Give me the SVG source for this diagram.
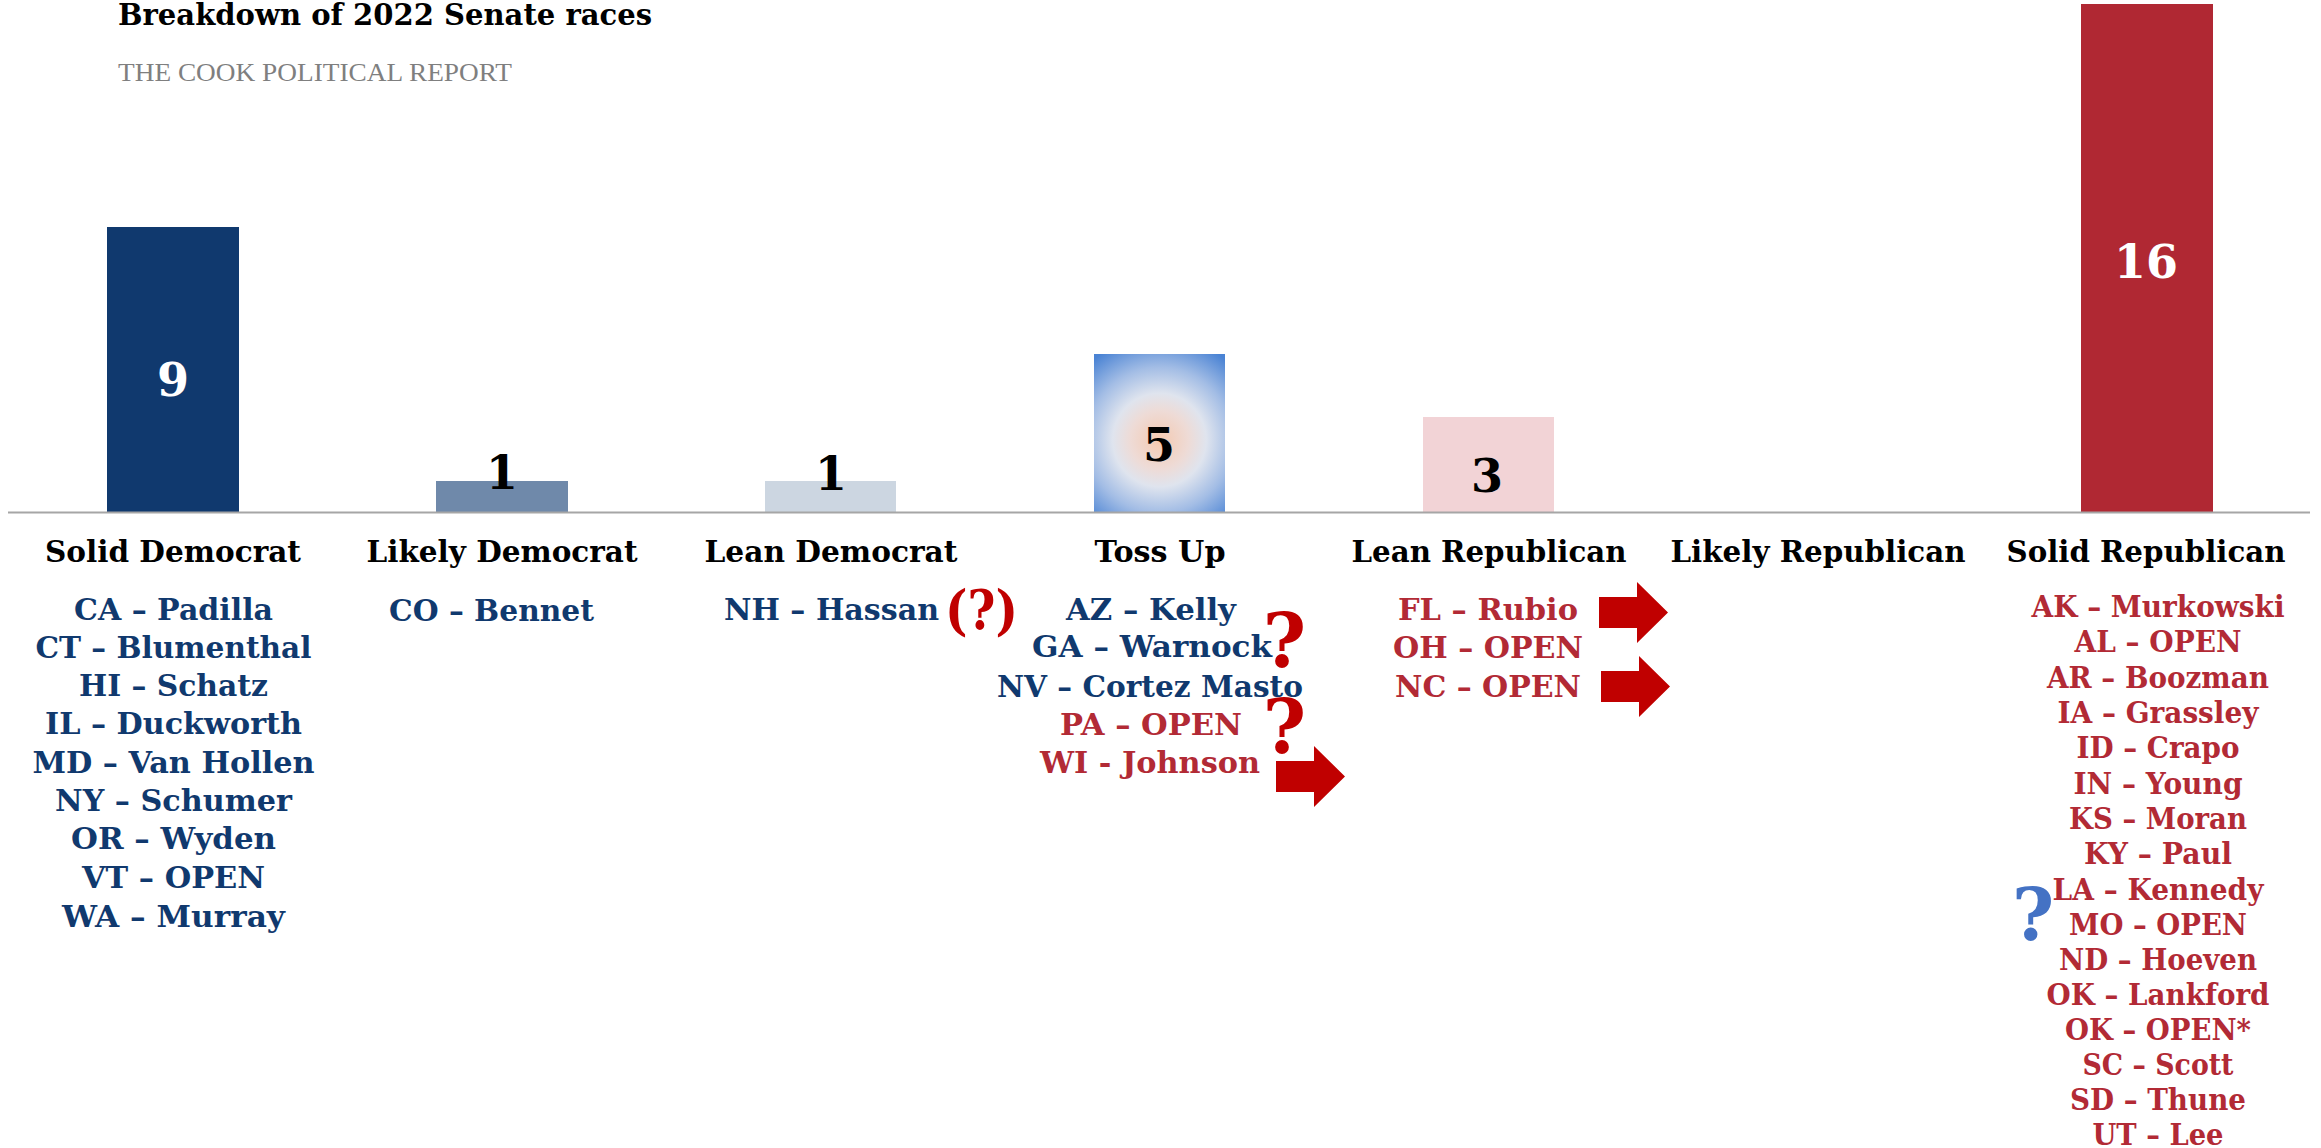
<svg xmlns="http://www.w3.org/2000/svg" width="2321" height="1148" viewBox="0 0 2321 1148">
<style>
  text { font-family: "DejaVu Serif", "Liberation Serif", serif; font-weight: bold; }
  .title { font-size: 29px; fill: #000; }
  .sub { font-family: "Liberation Serif", serif; font-weight: normal; font-size: 26px; fill: #7f7f7f; }
  .cat { font-size: 30px; fill: #000; text-anchor: middle; }
  .val { font-size: 46px; text-anchor: middle; }
  .li { font-size: 30px; text-anchor: middle; }
  .lr { font-size: 29px; text-anchor: middle; }
  .dem { fill: #10396e; }
  .rep { fill: #b22a35; }
  .q { fill: #c00000; text-anchor: middle; }
  .qb { fill: #4472c4; text-anchor: middle; }
  .arrow { fill: #c00000; }
</style>
<defs>
  <radialGradient id="tossGrad" gradientUnits="userSpaceOnUse" cx="1159.5" cy="440" r="104">
    <stop offset="0" stop-color="#f4c9b0"/>
    <stop offset="0.28" stop-color="#eedbd6"/>
    <stop offset="0.45" stop-color="#dfe4ee"/>
    <stop offset="0.7" stop-color="#a3bde5"/>
    <stop offset="1" stop-color="#4a83d4"/>
  </radialGradient>
  <path id="blockArrow" d="M0,-15.5 H38 V-30.5 L69,0 L38,30.5 V15.5 H0 Z"/>
</defs>
<rect x="0" y="0" width="2321" height="1148" fill="#ffffff"/>

<g id="header">
  <text class="title" x="118" y="25" textLength="534" lengthAdjust="spacingAndGlyphs">Breakdown of 2022 Senate races</text>
  <text class="sub" x="118" y="81" textLength="394" lengthAdjust="spacingAndGlyphs">THE COOK POLITICAL REPORT</text>
</g>

<g id="solid-democrat">
  <rect x="107" y="227" width="132" height="285" fill="#10396e"/>
  <text class="val" x="173" y="396" fill="#ffffff">9</text>
  <text class="cat" x="173" y="562" textLength="256" lengthAdjust="spacingAndGlyphs">Solid Democrat</text>
  <g class="li dem">
    <text x="173.5" y="620" textLength="199" lengthAdjust="spacingAndGlyphs">CA – Padilla</text>
    <text x="173.5" y="658" textLength="276" lengthAdjust="spacingAndGlyphs">CT – Blumenthal</text>
    <text x="173.5" y="696" textLength="189" lengthAdjust="spacingAndGlyphs">HI – Schatz</text>
    <text x="173.5" y="734" textLength="257" lengthAdjust="spacingAndGlyphs">IL – Duckworth</text>
    <text x="173.5" y="773" textLength="282" lengthAdjust="spacingAndGlyphs">MD – Van Hollen</text>
    <text x="173.5" y="811" textLength="237" lengthAdjust="spacingAndGlyphs">NY – Schumer</text>
    <text x="173.5" y="849" textLength="205" lengthAdjust="spacingAndGlyphs">OR – Wyden</text>
    <text x="173.5" y="888" textLength="183" lengthAdjust="spacingAndGlyphs">VT – OPEN</text>
    <text x="173.5" y="927" textLength="223" lengthAdjust="spacingAndGlyphs">WA – Murray</text>
  </g>
</g>

<g id="likely-democrat">
  <rect x="436" y="481" width="132" height="31" fill="#6f89aa"/>
  <text class="val" x="502" y="489" fill="#000000">1</text>
  <text class="cat" x="502" y="562" textLength="271" lengthAdjust="spacingAndGlyphs">Likely Democrat</text>
  <g class="li dem">
    <text x="491.5" y="621" textLength="205" lengthAdjust="spacingAndGlyphs">CO – Bennet</text>
  </g>
</g>

<g id="lean-democrat">
  <rect x="765" y="481" width="131" height="31" fill="#ccd6e1"/>
  <text class="val" x="831" y="490" fill="#000000">1</text>
  <text class="cat" x="831" y="562" textLength="253" lengthAdjust="spacingAndGlyphs">Lean Democrat</text>
  <g class="li dem">
    <text x="831.5" y="620" textLength="215" lengthAdjust="spacingAndGlyphs">NH – Hassan</text>
  </g>
  <text class="q" x="981.5" y="629" font-size="54" textLength="73" lengthAdjust="spacingAndGlyphs">(?)</text>
</g>

<g id="toss-up">
  <rect x="1094" y="354" width="131" height="158" fill="url(#tossGrad)"/>
  <text class="val" x="1159" y="461" fill="#000000">5</text>
  <text class="cat" x="1160" y="562" textLength="131" lengthAdjust="spacingAndGlyphs">Toss Up</text>
  <g class="li">
    <text class="dem" x="1151" y="620" textLength="170" lengthAdjust="spacingAndGlyphs">AZ – Kelly</text>
    <text class="dem" x="1152" y="657" textLength="240" lengthAdjust="spacingAndGlyphs">GA – Warnock</text>
    <text class="dem" x="1150" y="697" textLength="306" lengthAdjust="spacingAndGlyphs">NV – Cortez Masto</text>
    <text class="rep" x="1151" y="735" textLength="182" lengthAdjust="spacingAndGlyphs">PA – OPEN</text>
    <text class="rep" x="1150" y="773" textLength="220" lengthAdjust="spacingAndGlyphs">WI - Johnson</text>
  </g>
  <text class="q" x="1284.5" y="667" font-size="74">?</text>
  <text class="q" x="1284.5" y="753" font-size="74">?</text>
</g>

<g id="lean-republican">
  <rect x="1423" y="417" width="131" height="95" fill="#f2d3d6"/>
  <text class="val" x="1487" y="492" fill="#000000">3</text>
  <text class="cat" x="1489" y="562" textLength="275" lengthAdjust="spacingAndGlyphs">Lean Republican</text>
  <g class="li rep">
    <text x="1488" y="620" textLength="180" lengthAdjust="spacingAndGlyphs">FL – Rubio</text>
    <text x="1488" y="658" textLength="190" lengthAdjust="spacingAndGlyphs">OH – OPEN</text>
    <text x="1488" y="697" textLength="186" lengthAdjust="spacingAndGlyphs">NC – OPEN</text>
  </g>
</g>

<g id="likely-republican">
  <text class="cat" x="1818" y="562" textLength="295" lengthAdjust="spacingAndGlyphs">Likely Republican</text>
</g>

<g id="solid-republican">
  <rect x="2081" y="4" width="132" height="508" fill="#b02833"/>
  <text class="val" x="2146" y="278" fill="#ffffff">16</text>
  <text class="cat" x="2146" y="562" textLength="279" lengthAdjust="spacingAndGlyphs">Solid Republican</text>
  <g class="lr rep">
    <text x="2158" y="617" textLength="253" lengthAdjust="spacingAndGlyphs">AK – Murkowski</text>
    <text x="2158" y="652" textLength="167" lengthAdjust="spacingAndGlyphs">AL – OPEN</text>
    <text x="2158" y="688" textLength="222" lengthAdjust="spacingAndGlyphs">AR – Boozman</text>
    <text x="2158" y="723" textLength="201" lengthAdjust="spacingAndGlyphs">IA – Grassley</text>
    <text x="2158" y="758" textLength="163" lengthAdjust="spacingAndGlyphs">ID – Crapo</text>
    <text x="2158" y="794" textLength="169" lengthAdjust="spacingAndGlyphs">IN – Young</text>
    <text x="2158" y="829" textLength="178" lengthAdjust="spacingAndGlyphs">KS – Moran</text>
    <text x="2158" y="864" textLength="148" lengthAdjust="spacingAndGlyphs">KY – Paul</text>
    <text x="2158" y="900" textLength="211" lengthAdjust="spacingAndGlyphs">LA – Kennedy</text>
    <text x="2158" y="935" textLength="178" lengthAdjust="spacingAndGlyphs">MO – OPEN</text>
    <text x="2158" y="970" textLength="198" lengthAdjust="spacingAndGlyphs">ND – Hoeven</text>
    <text x="2158" y="1005" textLength="223" lengthAdjust="spacingAndGlyphs">OK – Lankford</text>
    <text x="2158" y="1040" textLength="186" lengthAdjust="spacingAndGlyphs">OK – OPEN*</text>
    <text x="2158" y="1075" textLength="151" lengthAdjust="spacingAndGlyphs">SC – Scott</text>
    <text x="2158" y="1110" textLength="176" lengthAdjust="spacingAndGlyphs">SD – Thune</text>
    <text x="2158" y="1145" textLength="131" lengthAdjust="spacingAndGlyphs">UT – Lee</text>
  </g>
  <text class="qb" x="2033" y="940" font-size="72">?</text>
</g>

<g id="axis">
  <line x1="8" y1="512.5" x2="2310" y2="512.5" stroke="#a6a6a6" stroke-width="2"/>
</g>

<g id="connectors">
  <use href="#blockArrow" class="arrow" transform="translate(1276,776.5)"/>
  <use href="#blockArrow" class="arrow" transform="translate(1599,612.5)"/>
  <use href="#blockArrow" class="arrow" transform="translate(1601,686.5)"/>
</g>
</svg>
